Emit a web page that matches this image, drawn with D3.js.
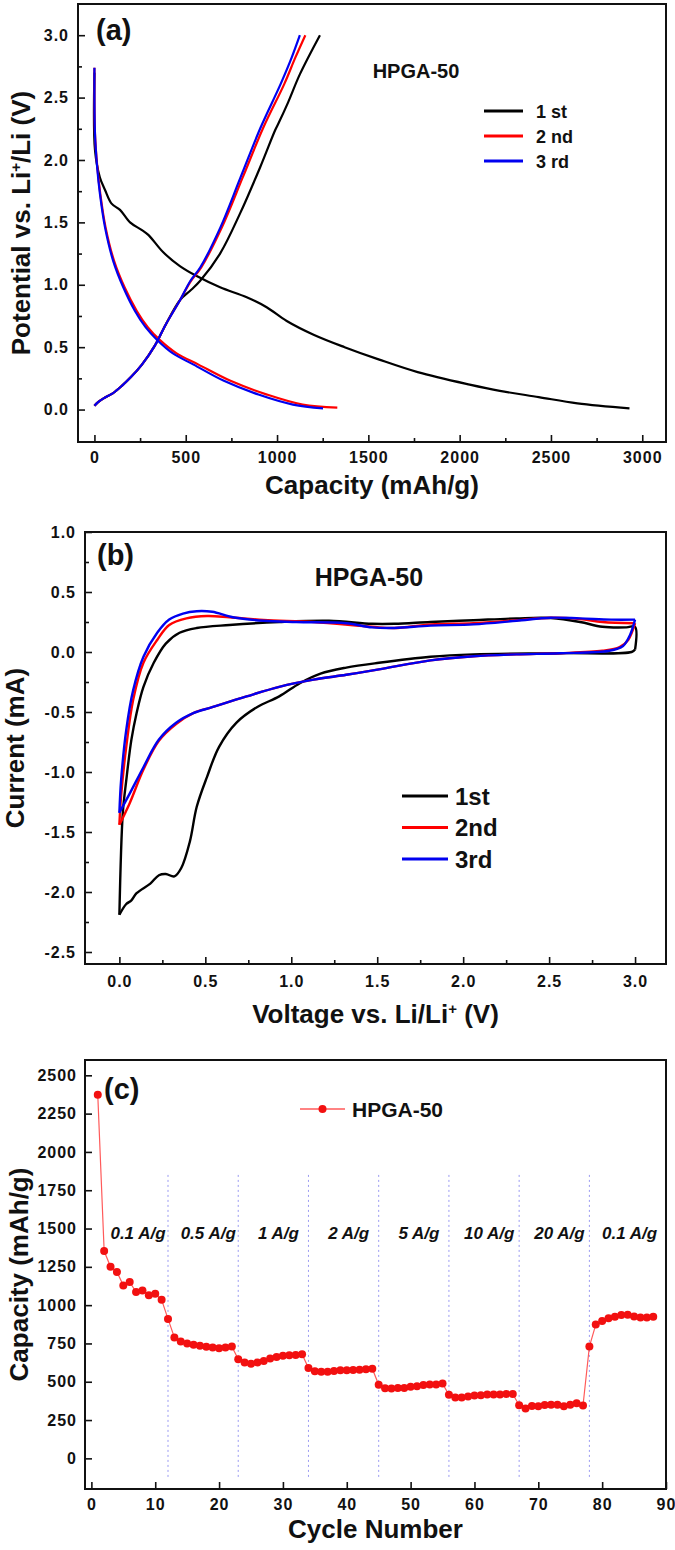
<!DOCTYPE html>
<html>
<head>
<meta charset="utf-8">
<script src="https://cdn.jsdelivr.net/npm/d3@7"></script>
<style>
  body { margin: 0; background: #fff; }
  svg text { font-family: "Liberation Sans", Arial, sans-serif; font-weight: bold; fill: #111; }
</style>
</head>
<body>
<svg id="fig" width="675" height="1550"></svg>
<script>
// ---- panel (a): galvanostatic charge/discharge, capacity (mAh/g) vs potential (V)
const capDis1 = [0, 3, 30, 58, 94, 140, 195, 258, 295, 377, 468, 560, 688, 834, 943, 1053, 1200, 1370, 1560, 1770, 2055, 2220, 2433, 2645, 2930];
const vDis1 = [2.7, 2.08, 1.86, 1.76, 1.65, 1.6, 1.5, 1.44, 1.4, 1.26, 1.15, 1.07, 0.98, 0.9, 0.82, 0.71, 0.6, 0.5, 0.4, 0.3, 0.2, 0.15, 0.1, 0.05, 0.01];
const capDis2 = [0, 3, 16, 32, 61, 108, 165, 232, 292, 356, 450, 570, 745, 945, 1140, 1330];
const vDis2 = [2.74, 2.21, 1.94, 1.73, 1.46, 1.19, 0.98, 0.79, 0.66, 0.56, 0.45, 0.36, 0.23, 0.12, 0.04, 0.015];
const capDis3 = [0, 3, 15, 30, 58, 103, 158, 222, 280, 342, 430, 543, 709, 898, 1087, 1252];
const vDis3 = [2.74, 2.21, 1.94, 1.73, 1.46, 1.19, 0.98, 0.79, 0.66, 0.56, 0.45, 0.36, 0.23, 0.12, 0.04, 0.01];

const capCh1 = [0, 20, 50, 100, 150, 200, 260, 330, 390, 470, 530, 578, 688, 797, 907, 990, 1010, 1060, 1126, 1235];
const vCh1 = [0.03, 0.06, 0.09, 0.13, 0.19, 0.26, 0.36, 0.51, 0.68, 0.88, 0.96, 1.03, 1.25, 1.57, 1.94, 2.24, 2.3, 2.46, 2.69, 3.0];
const capCh2 = [0, 20, 50, 100, 150, 200, 260, 330, 390, 470, 528, 585, 698, 812, 925, 1040, 1100, 1155];
const vCh2 = [0.03, 0.06, 0.09, 0.13, 0.19, 0.26, 0.36, 0.51, 0.68, 0.88, 1.03, 1.14, 1.46, 1.86, 2.26, 2.61, 2.82, 3.0];
const capCh3 = [0, 20, 50, 100, 150, 200, 260, 330, 390, 470, 525, 580, 690, 800, 910, 1020, 1080, 1125];
const vCh3 = [0.03, 0.06, 0.09, 0.13, 0.19, 0.26, 0.36, 0.51, 0.68, 0.88, 1.03, 1.14, 1.46, 1.86, 2.26, 2.61, 2.82, 3.0];

// ---- panel (b): cyclic voltammetry, voltage (V) vs current (mA)
const cv1DownV = [3.0, 2.98, 2.56, 2.06, 1.81, 1.51, 1.32, 1.17, 1.05, 0.93, 0.8, 0.68, 0.58, 0.51, 0.45, 0.41, 0.36, 0.32, 0.27, 0.23, 0.18, 0.1, 0.07, 0.04, 0.0];
const cv1DownI = [0.02, 0.0, -0.01, -0.02, -0.04, -0.09, -0.13, -0.18, -0.26, -0.37, -0.46, -0.59, -0.79, -1.04, -1.29, -1.58, -1.8, -1.87, -1.85, -1.86, -1.93, -2.01, -2.07, -2.1, -2.19];
const cv1UpV = [0.0, 0.02, 0.04, 0.07, 0.1, 0.14, 0.2, 0.27, 0.35, 0.45, 0.64, 0.93, 1.22, 1.47, 1.6, 1.81, 2.06, 2.31, 2.51, 2.68, 2.81, 2.95, 3.0, 3.0];
const cv1UpI = [-2.19, -1.34, -1.07, -0.73, -0.51, -0.29, -0.09, 0.07, 0.16, 0.2, 0.225, 0.25, 0.26, 0.235, 0.235, 0.25, 0.265, 0.28, 0.283, 0.25, 0.21, 0.205, 0.21, 0.02];
const cv2DownV = [3.0, 2.96, 2.91, 2.81, 2.56, 2.31, 2.06, 1.81, 1.51, 1.32, 1.13, 0.93, 0.74, 0.54, 0.43, 0.33, 0.23, 0.14, 0.06, 0.0];
const cv2DownI = [0.24, 0.1, 0.04, 0.01, -0.01, -0.02, -0.036, -0.07, -0.145, -0.19, -0.23, -0.29, -0.37, -0.46, -0.51, -0.6, -0.74, -0.98, -1.26, -1.44];
const cv2UpV = [0.0, 0.01, 0.04, 0.08, 0.14, 0.22, 0.29, 0.39, 0.51, 0.64, 0.84, 1.13, 1.47, 1.6, 1.81, 2.06, 2.31, 2.51, 2.68, 2.81, 3.0];
const cv2UpI = [-1.44, -1.2, -0.79, -0.4, -0.09, 0.1, 0.225, 0.28, 0.3, 0.29, 0.267, 0.25, 0.21, 0.2, 0.23, 0.24, 0.265, 0.286, 0.275, 0.25, 0.24];
const cv3DownV = [3.0, 2.97, 2.93, 2.85, 2.56, 2.31, 2.06, 1.81, 1.51, 1.32, 1.13, 0.93, 0.74, 0.54, 0.43, 0.33, 0.23, 0.14, 0.06, 0.0];
const cv3DownI = [0.27, 0.14, 0.05, 0.01, -0.01, -0.02, -0.036, -0.07, -0.145, -0.19, -0.23, -0.29, -0.37, -0.46, -0.51, -0.59, -0.73, -0.96, -1.18, -1.34];
const cv3UpV = [0.0, 0.01, 0.04, 0.08, 0.14, 0.22, 0.29, 0.37, 0.45, 0.54, 0.66, 0.84, 1.03, 1.32, 1.47, 1.6, 1.81, 2.06, 2.31, 2.51, 2.68, 2.86, 3.0];
const cv3UpI = [-1.34, -1.07, -0.65, -0.32, -0.04, 0.16, 0.27, 0.32, 0.34, 0.335, 0.29, 0.26, 0.25, 0.24, 0.205, 0.2, 0.22, 0.23, 0.26, 0.286, 0.28, 0.27, 0.27];

// ---- panel (c): rate capability, one capacity per cycle (cycles 1..88)
const rateCapacity = [
  2373, 1353, 1250, 1217, 1129, 1151, 1085, 1096, 1064, 1074, 1035, 910,
  789, 763, 750, 741, 735, 728, 724, 719, 724, 730,
  647, 625, 618, 625, 636, 651, 662, 669, 673, 675, 680,
  590, 568, 566, 566, 570, 575, 575, 577, 579, 581, 585,
  480, 458, 456, 460, 460, 467, 471, 478, 482, 482, 488,
  415, 398, 398, 404, 410, 412, 417, 417, 417, 420, 420,
  347, 326, 342, 340, 349, 350, 350, 340, 350, 360, 345,
  730, 873, 897, 914, 925, 935, 938, 926, 920, 920, 925
];
const rateBounds = [12, 23, 34, 45, 56, 67, 78];
const rateLabels = ["0.1 A/g", "0.5 A/g", "1 A/g", "2 A/g", "5 A/g", "10 A/g", "20 A/g", "0.1 A/g"];

const svg = d3.select("#fig");
const minus = s => s.replace("\u2212", "-");

function makePanel(box, xDom, yDom) {
  const x = d3.scaleLinear().domain(xDom).range([box.left, box.right]);
  const y = d3.scaleLinear().domain(yDom).range([box.bottom, box.top]);
  return { box, x, y };
}

function drawAxes(p, o) {
  const { box, x, y } = p;
  const bx = svg.append("g").attr("transform", `translate(0,${box.bottom})`);
  bx.call(d3.axisBottom(x).tickValues(o.xMajor).tickSize(-7).tickPadding(o.xPad).tickFormat(o.xFmt));
  if (o.xMinor) {
    bx.append("g").call(d3.axisBottom(x).tickValues(o.xMinor).tickSize(-4).tickFormat(""));
  }
  const ly = svg.append("g").attr("transform", `translate(${box.left},0)`);
  ly.call(d3.axisLeft(y).tickValues(o.yMajor).tickSize(-7).tickPadding(o.yPad).tickFormat(o.yFmt));
  if (o.yMinor) {
    ly.append("g").call(d3.axisLeft(y).tickValues(o.yMinor).tickSize(-4).tickFormat(""));
  }
  svg.selectAll(".domain").remove();
  svg.selectAll(".tick line").attr("stroke", "#111").attr("stroke-width", 1.6);
  svg.selectAll(".tick text")
    .style("font-size", "16px").style("letter-spacing", "1px")
    .attr("fill", "#111");
  svg.append("rect")
    .attr("x", box.left).attr("y", box.top)
    .attr("width", box.right - box.left).attr("height", box.bottom - box.top)
    .attr("fill", "none").attr("stroke", "#111").attr("stroke-width", 2);
}

// "^+" marks a superscript plus sign inside a title
function fillParts(t, parts) {
  let back = 0;
  parts.forEach(s => {
    if (s === "^+") {
      t.append("tspan").attr("dy", -9).style("font-size", "15px").text("+");
      back = 9;
    } else {
      t.append("tspan").attr("dy", back).text(s);
      back = 0;
    }
  });
}

function yTitle(xPos, p, parts) {
  const t = svg.append("text")
    .attr("transform", `translate(${xPos},${(p.box.top + p.box.bottom) / 2}) rotate(-90)`)
    .attr("text-anchor", "middle").style("font-size", "26px");
  fillParts(t, parts);
}

function xTitle(yPos, p, parts) {
  const t = svg.append("text")
    .attr("x", (p.box.left + p.box.right) / 2).attr("y", yPos)
    .attr("text-anchor", "middle").style("font-size", "26px");
  fillParts(t, parts);
}

function tag(xPos, yPos, s) {
  svg.append("text").attr("x", xPos).attr("y", yPos)
    .style("font-size", "29px").attr("fill", "#14142a").text(s);
}

const smooth = d3.curveCatmullRom.alpha(0.5);

// ================= panel (a)
const pa = makePanel({ left: 78, right: 666, top: 4, bottom: 442 }, [-90, 3130], [-0.26, 3.25]);
drawAxes(pa, {
  xMajor: d3.range(0, 3001, 500), xMinor: d3.range(250, 3000, 500), xPad: 10, xFmt: d3.format("d"),
  yMajor: d3.range(0, 3.01, 0.5), yMinor: d3.range(0.25, 3.2, 0.5), yPad: 9, yFmt: d3.format(".1f")
});
const lineA = d3.line().x(d => pa.x(d[0])).y(d => pa.y(d[1])).curve(smooth);
const curvesA = [
  [capDis1, vDis1, "#000"], [capCh1, vCh1, "#000"],
  [capDis2, vDis2, "#f00"], [capCh2, vCh2, "#f00"],
  [capDis3, vDis3, "#0000f0"], [capCh3, vCh3, "#0000f0"]
];
curvesA.forEach(([c, v, col]) => {
  svg.append("path").datum(d3.zip(c, v)).attr("d", lineA)
    .attr("fill", "none").attr("stroke", col).attr("stroke-width", 2.2);
});
tag(96, 40, "(a)");
svg.append("text").attr("x", 416).attr("y", 78).attr("text-anchor", "middle")
  .style("font-size", "20px").text("HPGA-50");
const legA = [["1 st", "#000"], ["2 nd", "#f00"], ["3 rd", "#0000f0"]];
legA.forEach(([s, col], i) => {
  const yy = 111 + i * 25;
  svg.append("line").attr("x1", 484).attr("x2", 523).attr("y1", yy).attr("y2", yy)
    .attr("stroke", col).attr("stroke-width", 3);
  svg.append("text").attr("x", 536).attr("y", yy + 6.5).style("font-size", "18px").text(s);
});
yTitle(30, pa, ["Potential vs. Li", "^+", "/Li (V)"]);
xTitle(494, pa, ["Capacity (mAh/g)"]);

// ================= panel (b)
const pb = makePanel({ left: 85, right: 666, top: 532, bottom: 964 }, [-0.2, 3.18], [-2.6, 1.0]);
drawAxes(pb, {
  xMajor: d3.range(0, 3.01, 0.5), xMinor: d3.range(0.25, 3, 0.5), xPad: 12, xFmt: d3.format(".1f"),
  yMajor: d3.range(-2.5, 1.01, 0.5), yMinor: d3.range(-2.25, 1, 0.5), yPad: 9, yFmt: d => minus(d3.format(".1f")(d))
});
const lineB = d3.line().x(d => pb.x(d[0])).y(d => pb.y(d[1])).curve(smooth);
const curvesB = [
  [cv1DownV, cv1DownI, "#000"], [cv1UpV, cv1UpI, "#000"],
  [cv2DownV, cv2DownI, "#f00"], [cv2UpV, cv2UpI, "#f00"],
  [cv3DownV, cv3DownI, "#0000f0"], [cv3UpV, cv3UpI, "#0000f0"]
];
curvesB.forEach(([v, c, col]) => {
  svg.append("path").datum(d3.zip(v, c)).attr("d", lineB)
    .attr("fill", "none").attr("stroke", col).attr("stroke-width", 2.4)
    .attr("stroke-linejoin", "round");
});
tag(97, 565, "(b)");
svg.append("text").attr("x", 369).attr("y", 586).attr("text-anchor", "middle")
  .style("font-size", "25px").text("HPGA-50");
const legB = [["1st", "#000"], ["2nd", "#f00"], ["3rd", "#0000f0"]];
legB.forEach(([s, col], i) => {
  const yy = 796 + i * 31.5;
  svg.append("line").attr("x1", 402).attr("x2", 448).attr("y1", yy).attr("y2", yy)
    .attr("stroke", col).attr("stroke-width", 3);
  svg.append("text").attr("x", 455).attr("y", yy + 8.5).style("font-size", "24px").text(s);
});
yTitle(24, pb, ["Current (mA)"]);
xTitle(1023, pb, ["Voltage vs. Li/Li", "^+", " (V)"]);

// ================= panel (c)
const pc = makePanel({ left: 85, right: 666, top: 1060, bottom: 1489 }, [-1, 90], [-200, 2600]);
drawAxes(pc, {
  xMajor: d3.range(0, 91, 10), xPad: 10, xFmt: d3.format("d"),
  yMajor: d3.range(0, 2501, 250), yPad: 8, yFmt: d3.format("d")
});
// rate-change markers
svg.append("g").selectAll("line").data(rateBounds).join("line")
  .attr("x1", d => pc.x(d)).attr("x2", d => pc.x(d))
  .attr("y1", pc.y(1850)).attr("y2", pc.y(-140))
  .attr("stroke", "#9a9af2").attr("stroke-width", 1).attr("stroke-dasharray", "2,3");
const segEdges = [1].concat(rateBounds, [89]);
svg.append("g").selectAll("text").data(rateLabels).join("text")
  .attr("x", (d, i) => pc.x((segEdges[i] + segEdges[i + 1]) / 2 + 0.8))
  .attr("y", pc.y(1470) + 6)
  .attr("text-anchor", "middle").style("font-size", "17px").style("font-style", "italic")
  .text(d => d);
const pts = rateCapacity.map((v, i) => [i + 1, v]);
svg.append("path").datum(pts)
  .attr("d", d3.line().x(d => pc.x(d[0])).y(d => pc.y(d[1])))
  .attr("fill", "none").attr("stroke", "#ff5a5a").attr("stroke-width", 1.2);
svg.append("g").selectAll("circle").data(pts).join("circle")
  .attr("cx", d => pc.x(d[0])).attr("cy", d => pc.y(d[1])).attr("r", 4)
  .attr("fill", "#f21010");
tag(104, 1099, "(c)");
svg.append("line").attr("x1", 300).attr("x2", 345).attr("y1", 1109).attr("y2", 1109)
  .attr("stroke", "#ff5a5a").attr("stroke-width", 1.5);
svg.append("circle").attr("cx", 322.5).attr("cy", 1109).attr("r", 4).attr("fill", "#f21010");
svg.append("text").attr("x", 352).attr("y", 1116.5).style("font-size", "21px").text("HPGA-50");
yTitle(28, pc, ["Capacity (mAh/g)"]);
xTitle(1538, pc, ["Cycle Number"]);
</script>
</body>
</html>
